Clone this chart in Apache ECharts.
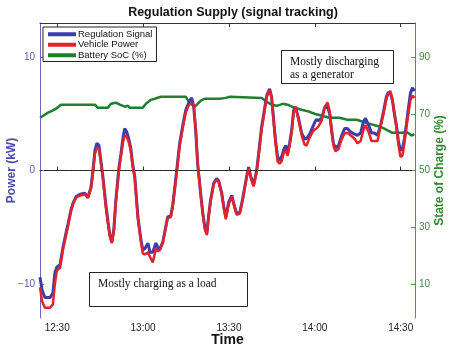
<!DOCTYPE html>
<html>
<head>
    <meta charset="utf-8">
    <title>Regulation Supply</title>
    <script src="https://cdn.jsdelivr.net/npm/echarts@6/dist/echarts.min.js"></script>
    <style>
        html, body { margin: 0; padding: 0; background: #fff; }
        #chart1 { width: 450px; height: 351px; }
    </style>
</head>
<body>
<div id="chart1"></div>
<script type="text/javascript">
    // time in minutes since midnight
    var times = [744.0, 744.7, 745.7, 747.5, 748.5, 749.2, 749.9, 751.0, 752.0, 753.1, 753.8, 754.8, 755.5, 756.6, 758.0, 759.7,
        760.7, 761.8, 762.5, 763.2, 763.9, 764.6, 765.3, 766.0, 767.0, 767.7, 768.4, 769.1, 769.8, 770.5, 771.6, 772.3,
        773.0, 773.6, 774.3, 775.0, 775.7, 776.4, 777.1, 778.2, 779.2, 779.9, 780.6, 781.7, 782.4, 783.4, 784.5, 785.2,
        785.9, 786.9, 787.9, 788.6, 789.7, 790.4, 791.1, 792.1, 792.8, 793.9, 794.9, 796.0, 797.0, 797.7, 798.4, 799.1,
        800.2, 800.9, 801.6, 802.3, 802.9, 803.6, 804.7, 805.7, 806.4, 807.5, 808.2, 808.9, 809.9, 811.0, 812.0, 812.7,
        813.8, 814.8, 815.5, 816.2, 816.9, 817.6, 818.6, 819.7, 820.7, 821.4, 822.5, 823.2, 824.2, 824.9, 825.6, 826.3,
        827.0, 827.7, 828.4, 829.1, 829.8, 830.5, 831.2, 831.9, 832.6, 833.3, 834.3, 835.4, 836.4, 837.1, 838.2, 839.2,
        839.9, 840.6, 841.3, 842.4, 843.4, 844.5, 845.2, 845.9, 846.5, 847.2, 848.3, 849.3, 850.4, 851.4, 852.5, 853.9,
        854.9, 856.0, 857.0, 857.7, 858.8, 859.8, 860.8, 861.9, 862.9, 864.0, 865.0, 865.7, 866.4, 867.1, 867.8, 868.5,
        869.2, 869.9, 870.6, 871.3, 872.0, 872.7, 873.4, 874.1, 874.8];

    var regulationSignal = [-9.4, -10.5, -11.2, -11.2, -10.8, -9.0, -8.5, -8.3, -6.8, -5.5, -4.7, -3.5, -2.9, -2.3, -2.1, -2.0,
        -2.4, -1.5, 0.0, 1.8, 2.4, 2.2, 0.8, -0.6, -3.0, -4.4, -5.7, -6.3, -5.2, -2.6, 0.3, 1.5,
        2.9, 3.7, 3.4, 2.8, 2.0, 0.5, -0.5, -4.1, -6.0, -7.0, -6.9, -6.4, -7.2, -7.2, -6.4, -6.8,
        -6.9, -6.3, -5.0, -4.1, -4.0, -3.0, -1.5, 0.8, 2.4, 4.0, 5.3, 6.0, 6.4, 5.6, 3.5, 0.5,
        -2.2, -3.8, -5.0, -5.5, -4.0, -2.6, -1.1, -0.7, -0.9, -2.0, -3.2, -4.1, -2.8, -2.2, -3.2, -3.8,
        -3.7, -2.5, -1.5, -0.5, 0.3, -0.5, -1.3, 0.0, 2.2, 3.8, 5.5, 6.6, 7.2, 6.5, 4.5, 2.6,
        1.2, 0.9, 1.2, 1.8, 2.2, 1.6, 2.4, 3.5, 5.3, 5.6, 4.6, 3.3, 2.8, 2.8, 3.2, 3.8,
        4.2, 4.5, 4.4, 4.6, 5.5, 5.6, 5.0, 3.5, 2.4, 2.0, 2.2, 3.0, 3.7, 3.7, 3.4, 3.2,
        3.1, 3.3, 4.3, 4.6, 4.0, 3.3, 3.3, 3.1, 3.9, 5.2, 6.5, 6.9, 6.8, 6.2, 5.0, 4.0,
        2.6, 1.8, 1.9, 2.8, 4.1, 5.5, 6.8, 7.3, 7.0];

    var vehiclePower = [-10.3, -11.5, -12.1, -12.1, -11.8, -10.0, -8.8, -8.6, -7.0, -5.7, -4.9, -3.6, -3.0, -2.4, -2.2, -2.1,
        -2.4, -1.6, -0.2, 1.5, 2.0, 1.9, 0.6, -0.8, -3.2, -4.6, -5.8, -6.4, -5.3, -2.8, 0.1, 1.3,
        2.5, 3.1, 3.0, 2.5, 1.8, 0.3, -0.7, -4.2, -6.2, -7.3, -7.4, -7.2, -7.6, -8.1, -6.9, -7.1,
        -7.0, -6.4, -5.1, -4.2, -4.1, -3.1, -1.6, 0.6, 2.2, 3.8, 5.1, 5.8, 5.9, 5.8, 3.7, 0.6,
        -2.3, -3.9, -5.2, -5.7, -4.1, -2.7, -1.2, -0.8, -1.0, -2.1, -3.3, -4.3, -3.0, -2.3, -3.3, -3.9,
        -3.8, -2.6, -1.6, -0.6, 0.2, -0.6, -1.4, -0.1, 2.0, 3.6, 5.3, 6.5, 7.1, 6.4, 4.4, 2.4,
        0.8, 0.6, 0.8, 1.5, 1.8, 1.3, 2.2, 3.3, 5.2, 5.6, 4.5, 3.1, 2.3, 2.2, 2.9, 3.4,
        3.6, 3.7, 3.9, 4.4, 5.6, 6.0, 5.2, 3.4, 2.2, 1.7, 1.9, 2.7, 3.3, 3.3, 3.1, 2.8,
        2.4, 2.6, 3.6, 4.0, 3.4, 2.6, 2.6, 2.6, 3.8, 5.0, 6.3, 6.8, 7.0, 6.3, 5.0, 3.8,
        2.3, 1.2, 1.3, 2.4, 3.8, 5.0, 6.2, 6.6, 6.4];

    var socTimes = [744.0, 745.4, 746.8, 748.2, 749.6, 751.3, 763.2, 764.2, 767.7, 768.8, 770.5, 771.9, 773.6, 774.7, 775.4,
        779.9, 781.0, 782.7, 784.1, 786.2, 794.9, 795.6, 796.7, 798.1, 800.2, 801.6, 805.4, 805.7, 806.8, 808.9, 810.3,
        821.4, 823.2, 824.9, 826.7, 828.8, 830.5, 832.9, 835.4, 838.2, 839.9, 842.4, 845.2, 848.6, 851.4, 854.6, 858.1,
        861.5, 863.6, 867.1, 870.6, 872.0, 873.8, 874.8];
    var batterySoc = [68.6, 69.5, 70.4, 71.0, 71.8, 73.2, 73.2, 72.1, 72.1, 73.5, 73.9, 73.2, 72.5, 72.8, 72.1,
        72.1, 73.5, 74.9, 75.3, 76.0, 76.0, 74.9, 73.5, 72.5, 74.6, 75.3, 75.3, 76.0, 75.3, 75.6, 76.0,
        75.6, 74.2, 73.2, 72.8, 73.5, 73.2, 72.1, 71.4, 70.7, 70.0, 69.3, 68.6, 68.6, 67.9, 67.9, 66.8,
        65.8, 65.1, 63.3, 63.3, 63.7, 62.3, 62.8];

    var timeTicks = [750, 780, 810, 840, 870];
    var powerTicks = [-10, 0, 10];
    var socTicks = [10, 30, 50, 70, 90];

    function pairs(xs, ys) {
        var out = [];
        for (var i = 0; i < xs.length; i++) out.push([xs[i], ys[i]]);
        return out;
    }
    function hhmm(v) {
        var h = Math.floor(v / 60), m = Math.round(v - h * 60);
        return h + ':' + (m < 10 ? '0' + m : m);
    }

    var myChart1 = echarts.init(document.getElementById('chart1'));
    var font = 'Liberation Sans, Arial, sans-serif';
    var serif = 'Liberation Serif, Times New Roman, serif';

    myChart1.setOption({
        animation: false,
        textStyle: { fontFamily: font },
        title: {
            text: 'Regulation Supply (signal tracking)',
            left: 228, textAlign: 'center', top: 1,
            textStyle: { fontSize: 12.5, fontWeight: 'bold', color: '#111' }
        },
        legend: {
            orient: 'vertical', left: 43, top: 27,
            icon: 'rect', itemWidth: 28, itemHeight: 4, itemGap: 0,
            padding: [2, 4, 1, 5],
            borderColor: '#222', borderWidth: 1, backgroundColor: '#fff',
            textStyle: { fontSize: 9.5, color: '#111', lineHeight: 10.5, padding: [0, 0, 0, -3] },
            data: ['Regulation Signal', 'Vehicle Power', 'Battery SoC (%)']
        },
        grid: { left: 40, right: 35, top: 23, bottom: 33, outerBoundsMode: 'none', containLabel: false },
        xAxis: [{
            type: 'value', min: 744, max: 875,
            name: 'Time', nameLocation: 'middle', nameGap: 15, nameMoveOverlap: false,
            nameTextStyle: { fontSize: 14, fontWeight: 'bold', color: '#111', verticalAlign: 'top' },
            axisLine: { lineStyle: { color: '#333', width: 1 } },
            axisTick: { inside: true, length: 4, customValues: timeTicks, lineStyle: { color: '#333' } },
            axisLabel: { customValues: timeTicks, formatter: hhmm, fontSize: 10, color: '#222', margin: 5 },
            splitLine: { show: false }
        }, {
            type: 'value', min: 744, max: 875, position: 'top',
            axisLine: { show: true, onZero: false, lineStyle: { color: '#333', width: 1 } },
            axisTick: { show: true, inside: true, length: 4, customValues: timeTicks, lineStyle: { color: '#333' } },
            axisLabel: { show: false },
            splitLine: { show: false }
        }],
        yAxis: [{
            type: 'value', min: -13, max: 13,
            name: 'Power (kW)', nameLocation: 'middle', nameGap: 22, nameRotate: 90, nameMoveOverlap: false,
            nameTextStyle: { fontSize: 12, fontWeight: 'bold', color: '#4b4bb0' },
            axisLine: { show: true, onZero: false, lineStyle: { color: '#6a6ab8', width: 1 } },
            axisTick: { show: true, inside: true, length: 4, customValues: powerTicks },
            axisLabel: {
                customValues: powerTicks, fontSize: 10, color: '#5a5ab0', margin: 5,
                formatter: function (v) { return v < 0 ? '\u2212' + (-v) : '' + v; }
            },
            splitLine: { show: false }
        }, {
            type: 'value', min: -2, max: 102, position: 'right',
            name: 'State of Charge (%)', nameLocation: 'middle', nameGap: 19, nameRotate: 90, nameMoveOverlap: false,
            nameTextStyle: { fontSize: 12, fontWeight: 'bold', color: '#2f8a2f' },
            axisLine: { show: true, onZero: false, lineStyle: { color: '#4a9a4a', width: 1 } },
            axisTick: { show: true, inside: true, length: 4, customValues: socTicks },
            axisLabel: { customValues: socTicks, fontSize: 10, color: '#3a8a3a', margin: 4 },
            splitLine: { show: false }
        }],
        series: [{
            name: 'Battery SoC (%)', type: 'line', yAxisIndex: 1,
            data: pairs(socTimes, batterySoc), showSymbol: false, z: 1,
            itemStyle: { color: '#1f7f2f' },
            lineStyle: { color: '#1f7f2f', width: 2.5 }
        }, {
            name: 'Regulation Signal', type: 'line', yAxisIndex: 0,
            data: pairs(times, regulationSignal), showSymbol: false, z: 2,
            itemStyle: { color: '#3c3cab' },
            lineStyle: { color: '#3c3cab', width: 3 },
            markLine: {
                silent: true, symbol: 'none', label: { show: false },
                lineStyle: { color: '#222', type: [2, 3], width: 1 },
                data: [{ yAxis: 0 }]
            }
        }, {
            name: 'Vehicle Power', type: 'line', yAxisIndex: 0,
            data: pairs(times, vehiclePower), showSymbol: false, z: 3,
            itemStyle: { color: '#e4222a' },
            lineStyle: { color: '#e4222a', width: 2.5 }
        }],
        graphic: [{
            type: 'rect', left: 281, top: 50, z: 10,
            shape: { width: 112, height: 33 },
            style: { fill: '#fff', stroke: '#222', lineWidth: 1 }
        }, {
            type: 'text', left: 290, top: 55, z: 11,
            style: {
                text: 'Mostly discharging\nas a generator', fill: '#111',
                font: '11.5px ' + serif, lineHeight: 13
            }
        }, {
            type: 'rect', left: 89, top: 272, z: 10,
            shape: { width: 158, height: 34 },
            style: { fill: '#fff', stroke: '#222', lineWidth: 1 }
        }, {
            type: 'text', left: 98, top: 278, z: 11,
            style: { text: 'Mostly charging as a load', fill: '#111', font: '11.5px ' + serif }
        }]
    });
</script>
</body>
</html>
